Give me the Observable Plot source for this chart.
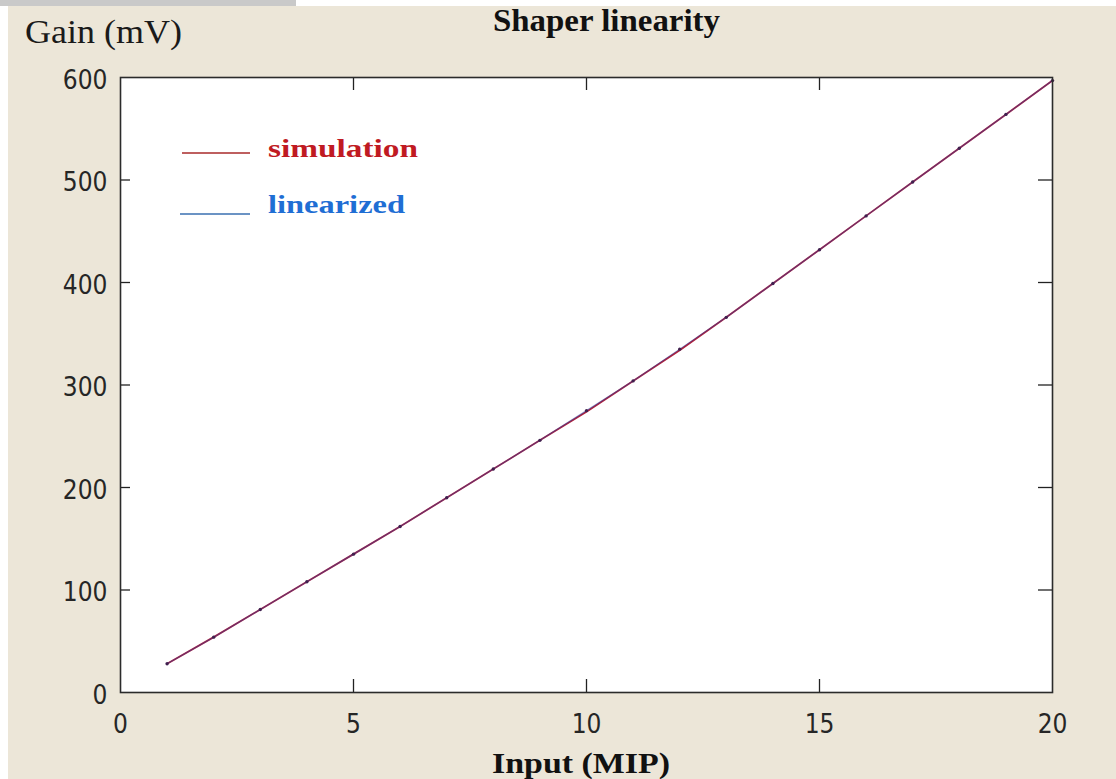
<!DOCTYPE html>
<html>
<head>
<meta charset="utf-8">
<script src="https://cdn.jsdelivr.net/npm/d3@7"></script>
<script src="https://cdn.jsdelivr.net/npm/@observablehq/plot@0.6"></script>
<style>
  html, body { margin: 0; padding: 0; background: #ffffff; }
  body { width: 1116px; height: 779px; position: relative; overflow: hidden; }
  #topbar { position: absolute; left: 0; top: 0; width: 296px; height: 6px; background: #c9c9c9; }
  #panel { position: absolute; left: 8px; top: 6px; width: 1108px; height: 773px; background: #ece6d8; }
  #panel svg { display: block; }
</style>
</head>
<body>
<div id="topbar"></div>
<div id="panel"></div>
<script>
// Shaper gain vs. input charge (in MIP units)
const inputMIP     = [1, 2, 3, 4, 5, 6, 7, 8, 9, 10, 11, 12, 13, 14, 15, 16, 17, 18, 19, 20];
const simulationMV = [28, 54, 81, 108, 135, 162, 190, 218, 246, 274, 304, 334, 366, 399, 432, 465, 498, 531, 564, 597];
const linearizedMV = [28, 54, 81, 108, 135, 162, 190, 218, 246, 275, 304, 335, 366, 399, 432, 465, 498, 531, 564, 597];

const xTicks = [0, 5, 10, 15, 20];
const yTicks = [0, 100, 200, 300, 400, 500, 600];

const simulation = inputMIP.map((x, i) => ({x, y: simulationMV[i]}));
const linearized = inputMIP.map((x, i) => ({x, y: linearizedMV[i]}));

const W = 1108, H = 773;
const mL = 112, mR = 64, mT = 71, mB = 87;
const plotW = W - mL - mR, plotH = H - mT - mB;
const tickFont = '"Liberation Sans Narrow", "DejaVu Sans Condensed", "Liberation Sans", sans-serif';

const chart = Plot.plot({
  width: W,
  height: H,
  marginLeft: mL,
  marginRight: mR,
  marginTop: mT,
  marginBottom: mB,
  style: {background: "transparent", fontFamily: tickFont, fontSize: "26px", color: "#262626", overflow: "visible"},
  x: {domain: [0, 20]},
  y: {domain: [0, 600]},
  marks: [
    Plot.frame({fill: "#ffffff", stroke: null}),
    Plot.axisX(xTicks, {tickSize: 0, tickPadding: 22, label: null, fontSize: 26}),
    Plot.axisY(yTicks, {tickSize: 0, tickPadding: 13, label: null, fontSize: 26, dy: 3}),
    // inward tick marks on all four sides
    Plot.tickX(xTicks.slice(1, -1), {x: d => d, insetTop: plotH - 13, stroke: "#222", strokeWidth: 1.3}),
    Plot.tickX(xTicks.slice(1, -1), {x: d => d, insetBottom: plotH - 13, stroke: "#222", strokeWidth: 1.3}),
    Plot.tickY(yTicks.slice(1, -1), {y: d => d, insetRight: plotW - 10, stroke: "#222", strokeWidth: 1.3}),
    Plot.tickY(yTicks.slice(1, -1), {y: d => d, insetLeft: plotW - 14, stroke: "#222", strokeWidth: 1.3}),
    Plot.line(simulation, {x: "x", y: "y", stroke: "#b0203a", strokeWidth: 1.8}),
    Plot.line(linearized, {x: "x", y: "y", stroke: "#2a3c9c", strokeWidth: 1.2, strokeOpacity: 0.5}),
    Plot.dot(linearized, {x: "x", y: "y", r: 1.7, fill: "#40204f", stroke: null}),
    Plot.frame({stroke: "#2b2b2b", strokeWidth: 1.6})
  ]
});

document.getElementById("panel").append(chart);

// titles, axis names and the legend
const svg = d3.select(chart);
const serif = '"Liberation Serif", "Times New Roman", serif';

function addText(str, x, y, size, width, weight, color) {
  svg.append("text")
    .attr("x", x).attr("y", y)
    .attr("text-anchor", "start")
    .attr("font-family", serif)
    .attr("font-size", size)
    .attr("font-weight", weight)
    .attr("fill", color)
    .attr("textLength", width)
    .attr("lengthAdjust", "spacingAndGlyphs")
    .text(str);
}

addText("Shaper linearity", 485, 25, 32, 227, "bold", "#111");
addText("Gain (mV)", 17, 37, 33, 157, "normal", "#1a1a1a");
addText("Input (MIP)", 484, 767, 30, 178, "bold", "#111");

addText("simulation", 260, 151, 25, 150, "bold", "#c01a22");
addText("linearized", 260, 207, 25, 137, "bold", "#1f6ed4");

svg.append("line").attr("x1", 174).attr("x2", 242).attr("y1", 147).attr("y2", 147)
  .attr("stroke", "#a82a2a").attr("stroke-width", 1.5);
svg.append("line").attr("x1", 172).attr("x2", 242).attr("y1", 208).attr("y2", 208)
  .attr("stroke", "#3a6fb0").attr("stroke-width", 1.5);
</script>
</body>
</html>
